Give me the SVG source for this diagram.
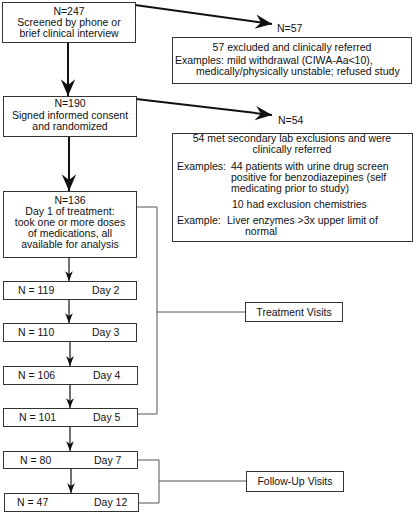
<svg xmlns="http://www.w3.org/2000/svg" width="416" height="514" viewBox="0 0 416 514">
<defs>
<style>
text{font-family:"Liberation Sans",Arial,sans-serif;font-size:10.5px;fill:#111}
.box{fill:#fff;stroke:#333;stroke-width:1}
.thick{stroke:#111;stroke-width:2;fill:none}
.thin{stroke:#111;stroke-width:1.2;fill:none}
.br{stroke:#555;stroke-width:1;fill:none}
.c{text-anchor:middle}
</style>
<marker id="big" markerUnits="userSpaceOnUse" markerWidth="20" markerHeight="20" viewBox="-16 -8 18 16" refX="0" refY="0" orient="auto">
<path d="M0,0 L-15,-6.5 L-10,0 L-15,6.5 Z" fill="#111"/>
</marker>
<marker id="small" markerUnits="userSpaceOnUse" markerWidth="12" markerHeight="12" viewBox="-10 -5 11 10" refX="0" refY="0" orient="auto">
<path d="M0,0 L-9,-3.5 L-6.5,0 L-9,3.5 Z" fill="#111"/>
</marker>
</defs>
<rect width="416" height="514" fill="#fff"/>

<g id="connectors">
<line class="thick" x1="135" y1="5" x2="272" y2="24" marker-end="url(#big)"/>
<line class="thick" x1="136" y1="99" x2="272" y2="115" marker-end="url(#big)"/>
<line class="thick" x1="68" y1="43" x2="68" y2="96" marker-end="url(#big)"/>
<line class="thick" x1="69" y1="137" x2="69" y2="191" marker-end="url(#big)"/>
<line class="thin" x1="69" y1="257" x2="69" y2="281" marker-end="url(#small)"/>
<line class="thin" x1="69" y1="299" x2="69" y2="323" marker-end="url(#small)"/>
<line class="thin" x1="70" y1="342" x2="70" y2="366" marker-end="url(#small)"/>
<line class="thin" x1="70" y1="384" x2="70" y2="408" marker-end="url(#small)"/>
<line class="thin" x1="70" y1="426" x2="70" y2="451" marker-end="url(#small)"/>
<line class="thin" x1="71" y1="468" x2="71" y2="493" marker-end="url(#small)"/>
<polyline class="br" points="136,207 157,207 157,414 137,414"/>
<line class="br" x1="157" y1="312" x2="245" y2="312"/>
<polyline class="br" points="137,460 159,460 159,503 138,503"/>
<line class="br" x1="159" y1="481" x2="246" y2="481"/>
</g>

<g id="screened">
<rect class="box" x="2.5" y="2.5" width="133" height="40"/>
<text class="c" x="69" y="15">N=247</text>
<text class="c" x="69" y="26">Screened by phone or</text>
<text class="c" x="69" y="37">brief clinical interview</text>
</g>

<g id="n57">
<text x="277" y="32">N=57</text>
</g>

<g id="excluded57">
<rect class="box" x="172.5" y="37.5" width="239" height="46"/>
<text class="c" x="292" y="51">57 excluded and clinically referred</text>
<text x="175" y="64">Examples: mild withdrawal (CIWA-Aa&lt;10),</text>
<text x="196" y="75">medically/physically unstable; refused study</text>
</g>

<g id="randomized">
<rect class="box" x="3.5" y="96.5" width="133" height="40"/>
<text class="c" x="70" y="107">N=190</text>
<text class="c" x="70" y="119">Signed informed consent</text>
<text class="c" x="70" y="130">and randomized</text>
</g>

<g id="n54">
<text x="278" y="124">N=54</text>
</g>

<g id="excluded54">
<rect class="box" x="172.5" y="133.5" width="240" height="108"/>
<text class="c" x="292" y="142">54 met secondary lab exclusions and were</text>
<text class="c" x="292" y="153">clinically referred</text>
<text x="177" y="170">Examples:</text>
<text x="231" y="170">44 patients with urine drug screen</text>
<text x="231" y="181">positive for benzodiazepines (self</text>
<text x="231" y="191.5">medicating prior to study)</text>
<text x="232" y="208">10 had exclusion chemistries</text>
<text x="177" y="224">Example:</text>
<text x="227" y="224">Liver enzymes &gt;3x upper limit of</text>
<text x="245" y="234.5">normal</text>
</g>

<g id="day1">
<rect class="box" x="3.5" y="191.5" width="133" height="66"/>
<text class="c" x="70" y="204">N=136</text>
<text class="c" x="70" y="215">Day 1 of treatment:</text>
<text class="c" x="70" y="226">took one or more doses</text>
<text class="c" x="70" y="237">of medications, all</text>
<text class="c" x="70" y="248">available for analysis</text>
</g>

<g id="day2">
<rect class="box" x="3.5" y="281.5" width="133" height="18"/>
<text x="18" y="294">N = 119</text>
<text x="92" y="294">Day 2</text>
</g>
<g id="day3">
<rect class="box" x="3.5" y="323.5" width="133" height="18"/>
<text x="18" y="336">N = 110</text>
<text x="92" y="336">Day 3</text>
</g>
<g id="day4">
<rect class="box" x="3.5" y="366.5" width="134" height="18"/>
<text x="18" y="379">N = 106</text>
<text x="93" y="379">Day 4</text>
</g>
<g id="day5">
<rect class="box" x="3.5" y="408.5" width="134" height="18"/>
<text x="19" y="421">N = 101</text>
<text x="93" y="421">Day 5</text>
</g>
<g id="day7">
<rect class="box" x="3.5" y="451.5" width="134" height="17"/>
<text x="20" y="464">N = 80</text>
<text x="94" y="464">Day 7</text>
</g>
<g id="day12">
<rect class="box" x="4.5" y="493.5" width="134" height="18"/>
<text x="17" y="506">N = 47</text>
<text x="94" y="506">Day 12</text>
</g>

<g id="treatment">
<rect class="box" x="245.5" y="302.5" width="97" height="19"/>
<text class="c" x="294" y="316">Treatment Visits</text>
</g>
<g id="followup">
<rect class="box" x="246.5" y="471.5" width="97" height="20"/>
<text class="c" x="295" y="485">Follow-Up Visits</text>
</g>
</svg>
